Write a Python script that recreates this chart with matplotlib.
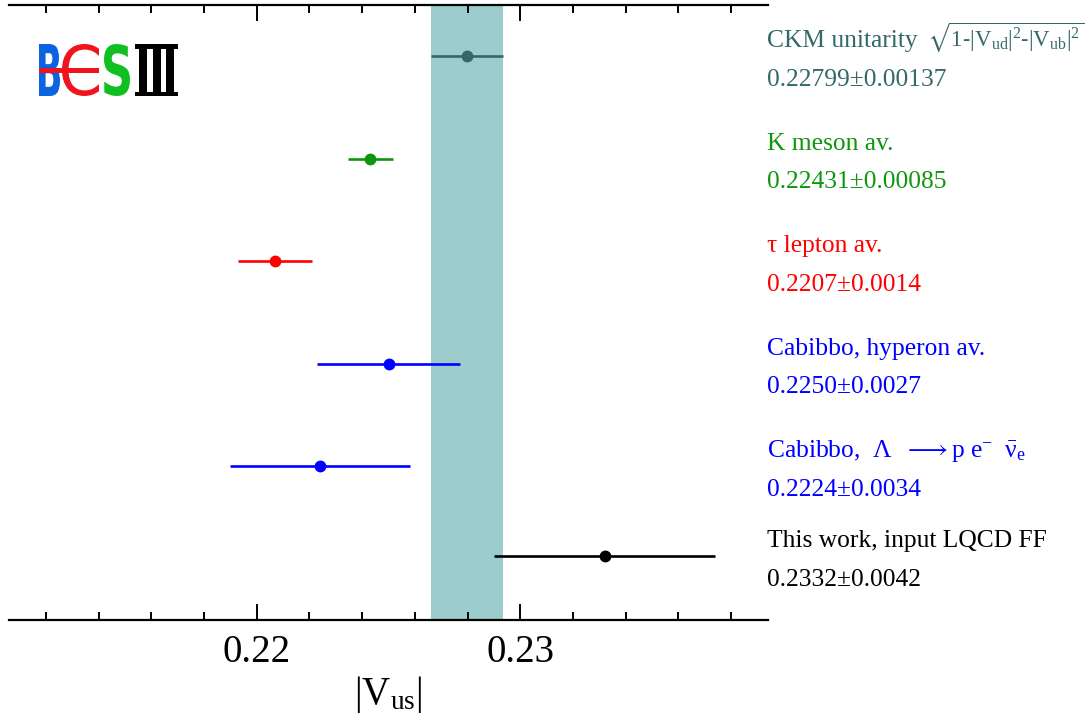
import matplotlib
matplotlib.use("Agg")
import matplotlib.pyplot as plt
from matplotlib.patches import Rectangle, PathPatch
from matplotlib.textpath import TextPath
from matplotlib.font_manager import FontProperties
from matplotlib.transforms import Affine2D, blended_transform_factory
from matplotlib.ticker import MultipleLocator

plt.rcParams["font.family"] = ["Liberation Serif", "DejaVu Serif"]
plt.rcParams["mathtext.fontset"] = "stix"
plt.rcParams["mathtext.default"] = "regular"

# Measurements of |V_us|, top to bottom
names = [
    "CKM unitarity",
    "K meson av.",
    "τ lepton av.",
    "Cabibbo, hyperon av.",
    r"Cabibbo,  Λ  $\longrightarrow p\ e^{-}\ \ \bar{\nu}_{e}$",
    "This work, input LQCD FF",
]
ckm_formula = r"$\sqrt{1\text{-}|V_{ud}|^{2}\text{-}|V_{ub}|^{2}}$"
values = [0.22799, 0.22431, 0.2207, 0.2250, 0.2224, 0.2332]
errors = [0.00137, 0.00085, 0.0014, 0.0027, 0.0034, 0.0042]
value_texts = ["0.22799±0.00137", "0.22431±0.00085", "0.2207±0.0014",
               "0.2250±0.0027", "0.2224±0.0034", "0.2332±0.0042"]
rows = [5.5, 4.5, 3.5, 2.5, 1.5, 0.62]
colors = ["#356868", "#0f960f", "#ff0000", "#0000ff", "#0000ff", "#000000"]
band_color = "#9ccccc"

W, H = 1085, 714
fig = plt.figure(figsize=(W / 100, H / 100), dpi=100)
ax = fig.add_axes([9 / W, 1 - 620 / H, (768 - 9) / W, (620 - 5) / H])

ax.set_xlim(0.2106, 0.2394)
ax.set_ylim(0, 6)

# CKM unitarity band
ax.axvspan(values[0] - errors[0], values[0] + errors[0], color=band_color, lw=0, zorder=0)

for v, e, y, c in zip(values, errors, rows, colors):
    ax.errorbar(v, y, xerr=e, fmt="o", color=c, ms=7.5, elinewidth=1.9,
                capsize=0, zorder=3)

# Labels to the right of the axes
trans = blended_transform_factory(ax.transAxes, ax.transData)
for name, vt, y, c in zip(names, value_texts, rows, colors):
    ax.text(0.999, y + 0.09, name, transform=trans, ha="left", va="baseline",
            fontsize=18.4, color=c, clip_on=False)
    ax.text(0.999, y - 0.29, vt, transform=trans, ha="left", va="baseline",
            fontsize=18.4, color=c, clip_on=False)
ax.text(1.2095, rows[0] + 0.09, ckm_formula, transform=trans, ha="left",
        va="baseline", fontsize=16.4, color=colors[0], clip_on=False)

# Axes styling
for s in ["left", "right"]:
    ax.spines[s].set_visible(False)
for s in ["top", "bottom"]:
    ax.spines[s].set_linewidth(1.6)
ax.set_yticks([])
ax.xaxis.set_major_locator(MultipleLocator(0.01))
ax.xaxis.set_minor_locator(MultipleLocator(0.002))
ax.tick_params(axis="x", which="both", direction="in", top=True, bottom=True,
               width=1.4)
ax.tick_params(axis="x", which="major", length=11.5, labelsize=28, pad=10)
ax.tick_params(axis="x", which="minor", length=5.8)
ax.xaxis.set_major_formatter(plt.FuncFormatter(lambda x, p: f"{x:.2f}"))
ax.set_xlabel(r"$|V_{us}|$", fontsize=28, labelpad=2)


# BESIII logo, drawn in pixel coordinates
def px(x, y):
    return x / 100, (H - y) / 100


def glyph(ch, x0, y0, x1, y1, color, prop):
    tp = TextPath((0, 0), ch, size=100, prop=prop)
    ext = tp.get_extents()
    ax0, ay0 = px(x0, y1)
    ax1, ay1 = px(x1, y0)
    t = (Affine2D().translate(-ext.x0, -ext.y0)
         .scale((ax1 - ax0) / ext.width, (ay1 - ay0) / ext.height)
         .translate(ax0, ay0) + fig.dpi_scale_trans)
    fig.patches.append(PathPatch(tp, transform=t, color=color, lw=0))


def rect(x0, y0, x1, y1, color):
    a0, b0 = px(x0, y1)
    a1, b1 = px(x1, y0)
    fig.patches.append(Rectangle((a0, b0), a1 - a0, b1 - b0, color=color, lw=0,
                                 transform=fig.dpi_scale_trans))


bold = FontProperties(family="DejaVu Sans", weight="bold")
glyph("B", 39, 44, 60, 96, "#0a63e0", bold)
glyph("C", 62, 44, 99, 96, "#f0141e", FontProperties(family="DejaVu Sans"))
rect(39, 67.5, 99, 73, "#f0141e")
glyph("S", 104, 44, 130, 96, "#10c020", bold)
# Roman numeral III
rect(135, 44, 178, 48.5, "#000000")
rect(135, 91.5, 178, 96, "#000000")
for sx in (139, 152.5, 166):
    rect(sx, 44, sx + 8, 96, "#000000")

fig.savefig("out.png", dpi=100)
